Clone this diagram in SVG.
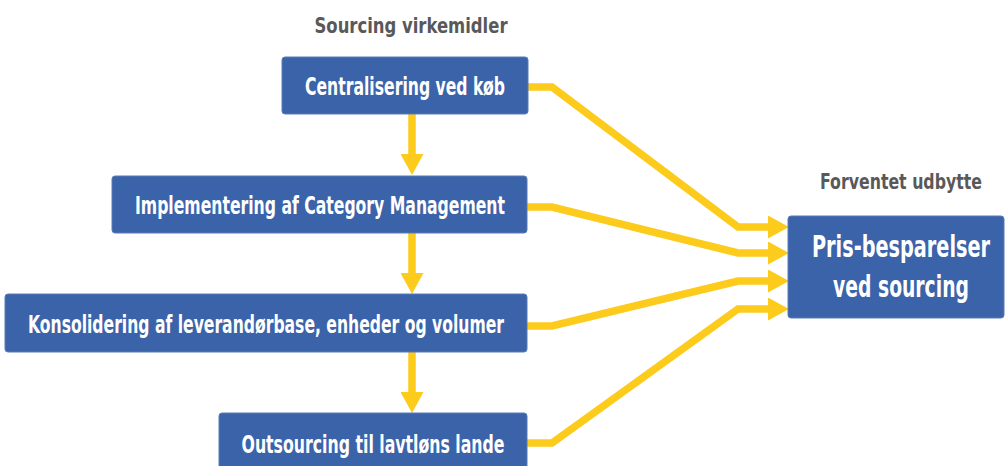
<svg xmlns="http://www.w3.org/2000/svg" width="1006" height="466" viewBox="0 0 1006 466">
  <style>
    .box { fill: #3B63A9; stroke: #5A7DB8; stroke-width: 1; }
    .t { font-family: "DejaVu Sans Condensed", "DejaVu Sans", "Liberation Sans", sans-serif; font-weight: bold; font-stretch: condensed; fill: #FFFFFF; text-anchor: middle; }
    .h { font-family: "DejaVu Sans Condensed", "DejaVu Sans", "Liberation Sans", sans-serif; font-weight: bold; font-stretch: condensed; fill: #595959; text-anchor: middle; font-size: 21px; }
    .c { fill: none; stroke: #FCCB1B; stroke-width: 7.5; stroke-linejoin: miter; }
  </style>
  <defs>
    <marker id="ah" viewBox="0 0 21 23" refX="0" refY="11.5" markerWidth="21" markerHeight="23" markerUnits="userSpaceOnUse" orient="auto">
      <polygon points="0,0 21,11.5 0,23" fill="#FCCB1B"/>
    </marker>
  </defs>
  <rect width="1006" height="466" fill="#FFFFFF"/>

  <text class="h" x="411" y="33" textLength="193" lengthAdjust="spacingAndGlyphs">Sourcing virkemidler</text>
  <text class="h" transform="translate(901,189) scale(0.6,1)" x="0" y="0" textLength="270" lengthAdjust="spacingAndGlyphs">Forventet udbytte</text>

  <g id="connectors">
    <path class="c" d="M412,114 V154" marker-end="url(#ah)"/>
    <path class="c" d="M412,233 V273" marker-end="url(#ah)"/>
    <path class="c" d="M412,352 V392" marker-end="url(#ah)"/>
    <path class="c" d="M527,87 H552 L738,227 H768" marker-end="url(#ah)"/>
    <path class="c" d="M527,207 H552 L738,253 H768" marker-end="url(#ah)"/>
    <path class="c" d="M527,326 H552 L738,281 H768" marker-end="url(#ah)"/>
    <path class="c" d="M527,443 H552 L738,309 H768" marker-end="url(#ah)"/>
  </g>

  <g id="node-centralisering">
    <rect class="box" x="282" y="57" width="246" height="57" rx="3"/>
    <text class="t" x="405" y="95" font-size="24" textLength="200" lengthAdjust="spacingAndGlyphs">Centralisering ved køb</text>
  </g>
  <g id="node-category">
    <rect class="box" x="112" y="176" width="415" height="57" rx="3"/>
    <text class="t" x="320" y="214" font-size="24" textLength="370" lengthAdjust="spacingAndGlyphs">Implementering af Category Management</text>
  </g>
  <g id="node-konsolidering">
    <rect class="box" x="5" y="294" width="522" height="58" rx="3"/>
    <text class="t" x="266" y="333" font-size="24" textLength="476" lengthAdjust="spacingAndGlyphs">Konsolidering af leverandørbase, enheder og volumer</text>
  </g>
  <g id="node-outsourcing">
    <rect class="box" x="219" y="413" width="308" height="58" rx="3"/>
    <text class="t" x="373" y="453" font-size="24" textLength="263" lengthAdjust="spacingAndGlyphs">Outsourcing til lavtløns lande</text>
  </g>
  <g id="node-pris">
    <rect class="box" x="788" y="216" width="216" height="102" rx="3"/>
    <text class="t" transform="translate(901,257) scale(0.55,1)" x="0" y="0" font-size="30" textLength="324" lengthAdjust="spacingAndGlyphs">Pris-besparelser</text>
    <text class="t" transform="translate(901,297) scale(0.55,1)" x="0" y="0" font-size="30" textLength="247" lengthAdjust="spacingAndGlyphs">ved sourcing</text>
  </g>
</svg>
